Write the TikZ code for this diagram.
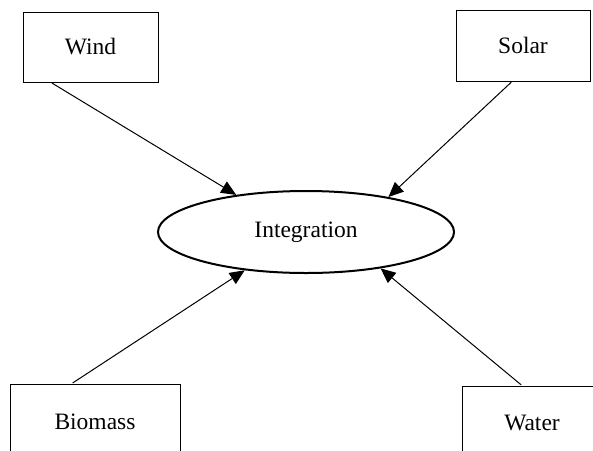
\documentclass[tikz,border=0pt]{standalone}
\usepackage{fontspec}
\setmainfont{Liberation Serif}
\usepackage{tikz}
\usetikzlibrary{arrows.meta,shapes.geometric}

\tikzset{
  source/.style={draw=black,line width=1pt,rectangle,align=center,
    font=\fontsize{23.5}{28}\selectfont},
  hub/.style={draw=black,line width=2pt,ellipse,inner sep=0pt,
    minimum width=296pt,minimum height=82pt,font=\fontsize{23.5}{28}\selectfont},
  feed/.style={line width=1pt,-{Triangle[length=15pt,width=13pt]},shorten <=1pt}
}

\begin{document}
\begin{tikzpicture}[x=1pt,y=-1pt]
\useasboundingbox (0,0) rectangle (593,450);
\clip (0,0) rectangle (593,450);

\node[source,minimum width=135pt,minimum height=70pt] (wind) at (90.5,47) {Wind};
\node[source,minimum width=134pt,minimum height=71pt] (solar) at (523,45.5) {Solar};
\node[source,minimum width=170pt,minimum height=76pt] (biomass) at (95,422) {Biomass};
\node[source,minimum width=140pt,minimum height=74pt] (water) at (532,423) {Water};

\node[hub] (integ) at (306,232) {Integration};

\draw[feed] (wind.-138) -- (integ.152);
\draw[feed] (solar.-107) -- (integ.23);
\draw[feed] (biomass.121) -- (integ.212);
\draw[feed] (water.105) -- (integ.-26);
\end{tikzpicture}
\end{document}
